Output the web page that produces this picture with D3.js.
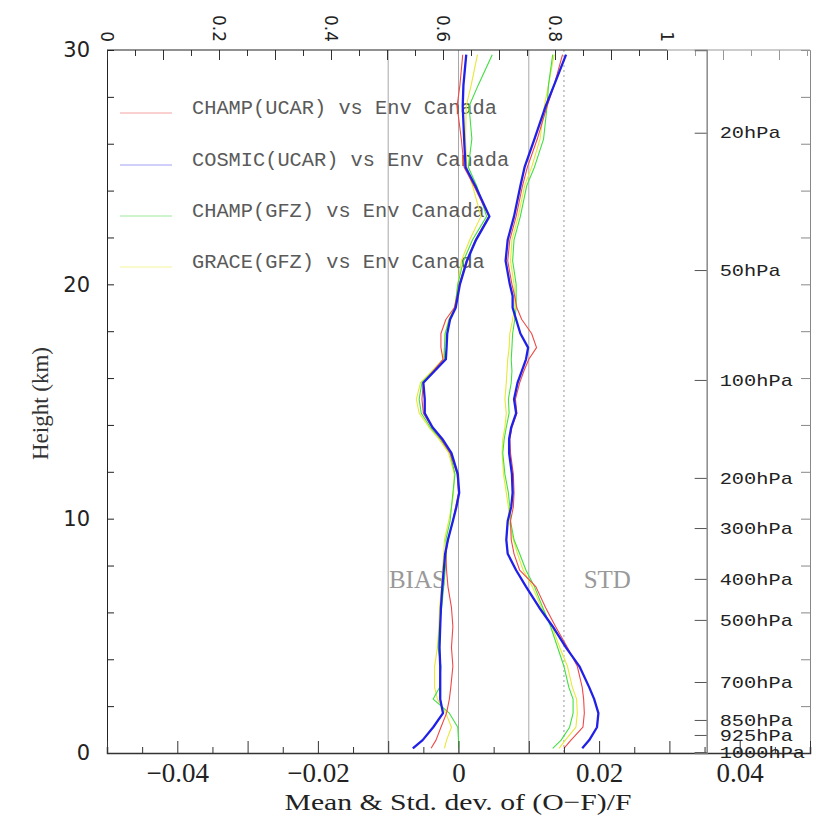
<!DOCTYPE html>
<html><head><meta charset="utf-8">
<script src="https://cdn.jsdelivr.net/npm/d3@7"></script>
<style>html,body{margin:0;padding:0;background:#fff;}svg{display:block;}</style>
</head><body>
<svg id="chart" width="816" height="825"></svg>
<script>
// ---------- data ----------
const heights = [0.2,0.55,1.1,1.7,2.3,2.8,3.7,4.5,5.4,6.2,7.1,7.8,8.5,9.1,9.9,10.5,11.1,11.9,12.8,13.4,13.9,14.5,15.1,15.8,16.3,16.8,17.3,17.9,18.5,19.0,19.5,20.0,21.0,21.9,22.9,24.2,25.0,26.2,27.6,28.5,29.8];

const seriesNames = ["CHAMP(UCAR) vs Env Canada","COSMIC(UCAR) vs Env Canada","CHAMP(GFZ) vs Env Canada","GRACE(GFZ) vs Env Canada"];

const biasChampUcar = [-0.0039,-0.0032,-0.0025,-0.0017,-0.0013,-0.0011,-0.0008,-0.0010,-0.0008,-0.0010,-0.0015,-0.0017,-0.0018,-0.0015,-0.0008,-0.0004,0.0000,-0.0002,-0.0012,-0.0025,-0.0038,-0.0050,-0.0052,-0.0050,-0.0036,-0.0022,-0.0025,-0.0025,-0.0018,-0.0006,-0.0002,0.0001,0.0011,0.0024,0.0043,0.0022,0.0008,0.0004,-0.0002,0.0002,0.0006];
const biasCosmicUcar = [-0.0065,-0.0051,-0.0036,-0.0022,-0.0026,-0.0026,-0.0026,-0.0027,-0.0026,-0.0025,-0.0023,-0.0021,-0.0019,-0.0015,-0.0008,-0.0003,0.0001,-0.0001,-0.0010,-0.0023,-0.0037,-0.0048,-0.0048,-0.0050,-0.0034,-0.0018,-0.0017,-0.0016,-0.0012,-0.0004,-0.0001,0.0002,0.0012,0.0025,0.0044,0.0024,0.0010,0.0008,0.0006,0.0007,0.0011];
const biasChampGfz = [0.0000,0.0000,-0.0001,-0.0013,-0.0036,-0.0027,-0.0025,-0.0029,-0.0027,-0.0024,-0.0021,-0.0019,-0.0017,-0.0018,-0.0012,-0.0010,-0.0008,-0.0005,-0.0012,-0.0026,-0.0040,-0.0053,-0.0056,-0.0052,-0.0036,-0.0020,-0.0020,-0.0019,-0.0013,-0.0005,-0.0003,-0.0001,0.0007,0.0020,0.0040,0.0026,0.0014,0.0019,0.0015,0.0028,0.0048];
const biasGraceGfz = [-0.0020,-0.0017,-0.0010,-0.0018,-0.0030,-0.0034,-0.0034,-0.0030,-0.0028,-0.0027,-0.0024,-0.0023,-0.0021,-0.0020,-0.0014,-0.0010,-0.0007,-0.0006,-0.0014,-0.0028,-0.0042,-0.0056,-0.0060,-0.0054,-0.0038,-0.0022,-0.0020,-0.0019,-0.0014,-0.0006,-0.0003,-0.0001,0.0004,0.0016,0.0032,0.0020,0.0012,0.0010,0.0011,0.0018,0.0027];

const stdChampUcar = [0.0150,0.0160,0.0177,0.0179,0.0178,0.0176,0.0169,0.0155,0.0138,0.0124,0.0110,0.0087,0.0079,0.0075,0.0074,0.0078,0.0079,0.0078,0.0074,0.0073,0.0076,0.0083,0.0081,0.0087,0.0093,0.0100,0.0111,0.0104,0.0090,0.0083,0.0080,0.0076,0.0070,0.0073,0.0082,0.0091,0.0098,0.0112,0.0126,0.0136,0.0148];
const stdCosmicUcar = [0.0176,0.0186,0.0197,0.0199,0.0193,0.0186,0.0172,0.0153,0.0134,0.0115,0.0096,0.0082,0.0070,0.0068,0.0070,0.0075,0.0077,0.0076,0.0072,0.0072,0.0075,0.0082,0.0079,0.0084,0.0090,0.0096,0.0099,0.0088,0.0082,0.0077,0.0077,0.0073,0.0067,0.0070,0.0079,0.0088,0.0094,0.0108,0.0124,0.0136,0.0153];
const stdChampGfz = [0.0134,0.0146,0.0158,0.0163,0.0163,0.0157,0.0150,0.0141,0.0131,0.0120,0.0108,0.0096,0.0087,0.0079,0.0074,0.0073,0.0071,0.0066,0.0063,0.0065,0.0068,0.0072,0.0071,0.0075,0.0076,0.0075,0.0076,0.0077,0.0080,0.0082,0.0082,0.0082,0.0077,0.0079,0.0088,0.0097,0.0108,0.0121,0.0126,0.0128,0.0134];
const stdGraceGfz = [0.0143,0.0152,0.0167,0.0169,0.0168,0.0162,0.0155,0.0144,0.0133,0.0118,0.0105,0.0092,0.0084,0.0078,0.0072,0.0071,0.0068,0.0064,0.0062,0.0063,0.0066,0.0068,0.0066,0.0068,0.0069,0.0070,0.0072,0.0073,0.0077,0.0080,0.0080,0.0079,0.0074,0.0076,0.0085,0.0094,0.0104,0.0116,0.0122,0.0128,0.0136];

const heightTickLabels = [0,10,20,30];
const bottomTickLabels = [-0.04,-0.02,0,0.02,0.04];
const topTickLabels = [0,0.2,0.4,0.6,0.8,1];
const pressureLabels = ["20hPa","50hPa","100hPa","200hPa","300hPa","400hPa","500hPa","700hPa","850hPa","925hPa","1000hPa"];
const pressureHeights = [26.47,20.61,15.92,11.74,9.6,7.43,5.68,3.03,1.41,0.77,0.04];
const refLinesSolid = [-0.01,0,0.01];
const refLineDotted = [0.015];
const pressureAxisAt = 0.0353;

// ---------- layout ----------
const svg = d3.select("#chart");
const L = 107, R = 810, T = 50, B = 753;
const x = d3.scaleLinear().domain([-0.05,0.05]).range([L,R]);
const xt = d3.scaleLinear().domain([0,1]).range([107,667]);
const y = d3.scaleLinear().domain([0,30]).range([B,T]);

const colors = ["#f04848","#2020e8","#40e040","#e8e838"];
const legendColors = ["#f4a0a0","#a0a0f4","#9ae89a","#f4f49a"];
const widths = [1.1,2.3,1.1,1.1];

// reference vertical lines
svg.selectAll("line.ref").data(refLinesSolid).enter().append("line")
  .attr("x1",d=>x(d)).attr("x2",d=>x(d)).attr("y1",T).attr("y2",B)
  .attr("stroke","#a8a8a8").attr("stroke-width",1);
svg.selectAll("line.refd").data(refLineDotted).enter().append("line")
  .attr("x1",d=>x(d)).attr("x2",d=>x(d)).attr("y1",T).attr("y2",B)
  .attr("stroke","#999").attr("stroke-width",1).attr("stroke-dasharray","2,3");

// BIAS / STD labels
svg.append("text").attr("x",x(-0.0099)).attr("y",588).text("BIAS")
  .attr("font-family","Liberation Serif").attr("font-size",25).attr("fill","#999");
svg.append("text").attr("x",x(0.0178)).attr("y",588).text("STD")
  .attr("font-family","Liberation Serif").attr("font-size",25).attr("fill","#999");

// legend
const lg = svg.append("g");
const legY = [107,159,210,261];
seriesNames.forEach((n,i)=>{
  lg.append("line").attr("x1",120).attr("x2",172).attr("y1",legY[i]+6).attr("y2",legY[i]+6)
    .attr("stroke",legendColors[i]).attr("stroke-width",1);
  lg.append("text").attr("x",192).attr("y",legY[i]).attr("dy","0.35em").text(n)
    .attr("font-family","Liberation Mono").attr("font-size",20).attr("fill","#5a5a5a")
    .attr("textLength", n.length*12.2).attr("lengthAdjust","spacingAndGlyphs");
});

// curves
const biasSeries = [biasChampUcar,biasCosmicUcar,biasChampGfz,biasGraceGfz];
const stdSeries = [stdChampUcar,stdCosmicUcar,stdChampGfz,stdGraceGfz];
const line = d3.line().x(d=>x(d[0])).y(d=>y(d[1]));
const order = [3,2,0,1];
order.forEach(i=>{
  [biasSeries[i],stdSeries[i]].forEach(vals=>{
    svg.append("path").datum(vals.map((v,k)=>[v,heights[k]]))
      .attr("d",line).attr("fill","none").attr("stroke",colors[i])
      .attr("stroke-width",widths[i]).attr("stroke-linejoin","round");
  });
});

// ---------- axes ----------
const fontSans = "DejaVu Sans";
// left axis
const leftAx = svg.append("g").attr("transform",`translate(${L},0)`)
  .call(d3.axisLeft(y).tickValues(d3.range(0,31,2)).tickSize(-7).tickPadding(17)
    .tickFormat(d=>heightTickLabels.includes(d)?d3.format("d")(d):""));
leftAx.select(".domain").attr("stroke","#222");
leftAx.selectAll(".tick line").attr("stroke","#222");
leftAx.selectAll("text").attr("font-family",fontSans).attr("font-size",21).attr("fill","#222");

// right box line with ticks
const rightAx = svg.append("g").attr("transform",`translate(${R},0)`)
  .call(d3.axisRight(y).tickValues(d3.range(0,31,2)).tickSize(-9).tickFormat(""));
rightAx.select(".domain").attr("stroke","#888");
rightAx.selectAll(".tick line").attr("stroke","#888");

// bottom axis
const botTicks = d3.range(-50,51,5).map(d=>d/1000);
const botAx = svg.append("g").attr("transform",`translate(0,${B})`)
  .call(d3.axisBottom(x).tickValues(botTicks).tickSize(-6).tickPadding(10)
    .tickFormat(d=>bottomTickLabels.some(v=>Math.abs(v-d)<1e-9)?d3.format("")(+d.toFixed(3)):""));
botAx.select(".domain").attr("stroke","#333").attr("stroke-width",1.5);
botAx.selectAll(".tick line").attr("stroke","#333")
  .attr("y2",d=>Math.abs(Math.round(d*1000)%10)===0?-12:-6);
botAx.selectAll("text").attr("font-family","Liberation Serif").attr("font-size",27).attr("fill","#222");

// top axis
const topTicks = d3.range(0,26,1).map(d=>d*0.05);
const topAx = svg.append("g").attr("transform",`translate(0,${T})`)
  .call(d3.axisTop(xt).tickValues(topTicks).tickSize(-6).tickFormat(""));
topAx.select(".domain").remove();
topAx.selectAll(".tick line").attr("stroke",d=>d<=1.0001?"#333":"#999")
  .attr("y2",d=>Math.abs(Math.round(d*100)%10)===0?10:6);
svg.append("line").attr("x1",xt(0)).attr("x2",xt(1)).attr("y1",T).attr("y2",T).attr("stroke","#222");
svg.append("line").attr("x1",xt(1)).attr("x2",R).attr("y1",T).attr("y2",T).attr("stroke","#999");
svg.selectAll("text.toplab").data(topTickLabels).enter().append("text")
  .attr("class","toplab")
  .attr("transform",d=>`translate(${xt(d)},${T-8}) rotate(90)`)
  .attr("text-anchor","end").attr("dy","0.35em")
  .attr("font-family",fontSans).attr("font-size",17).attr("fill","#222")
  .text(d=>d3.format("")(d));

// pressure axis
const pAx = svg.append("g").attr("transform",`translate(${x(pressureAxisAt)},0)`)
  .call(d3.axisRight(y).tickValues(pressureHeights).tickSize(-12).tickFormat(""));
pAx.select(".domain").attr("stroke","#777").attr("stroke-width",1.3);
pAx.selectAll(".tick line").attr("stroke","#555");
svg.selectAll("text.plab").data(pressureLabels).enter().append("text")
  .attr("class","plab")
  .attr("x",x(pressureAxisAt)+13).attr("y",(d,i)=>y(pressureHeights[i])).attr("dy","0.33em")
  .attr("font-family","Liberation Mono").attr("font-size",17).attr("fill","#222")
  .attr("textLength",(d)=>d.length*12.2).attr("lengthAdjust","spacingAndGlyphs")
  .text(d=>d);

// axis titles
svg.append("text").attr("transform",`translate(40,${(T+B)/2+2}) rotate(-90)`)
  .attr("text-anchor","middle").attr("dy","0.35em")
  .attr("font-family","Liberation Serif").attr("font-size",23).attr("fill","#333")
  .text("Height (km)");
svg.append("text").attr("x",458).attr("y",810)
  .attr("text-anchor","middle")
  .attr("font-family","Liberation Serif").attr("font-size",24).attr("fill","#222")
  .attr("textLength",347).attr("lengthAdjust","spacingAndGlyphs")
  .text("Mean & Std. dev. of (O−F)/F");
</script>
</body></html>
